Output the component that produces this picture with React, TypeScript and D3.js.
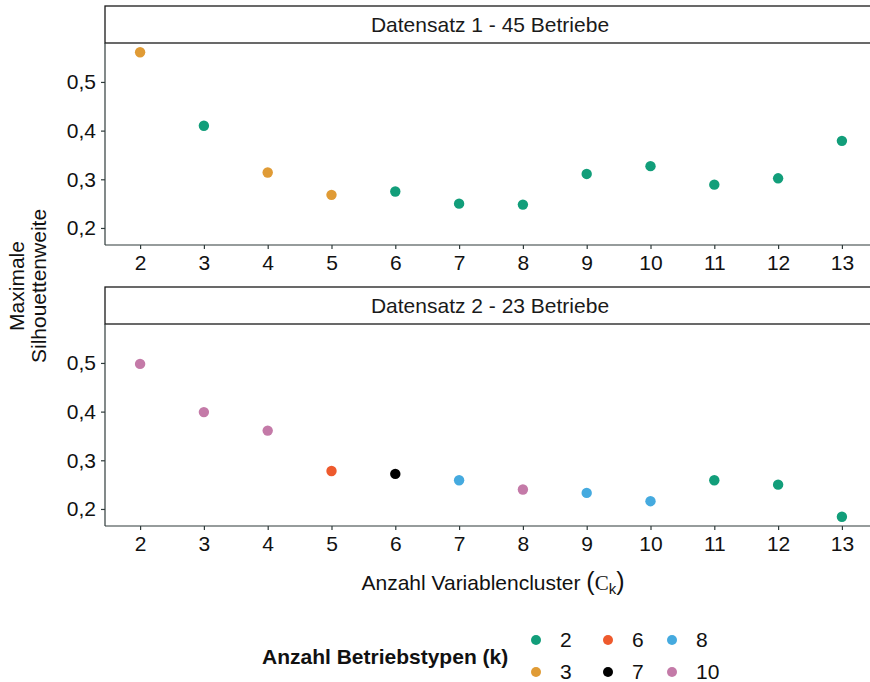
import React from "react";
import * as d3 from "d3";

// Anzahl Variablencluster (x) and maximale Silhouettenweite per Datensatz
const clusters = [2, 3, 4, 5, 6, 7, 8, 9, 10, 11, 12, 13];
const silhouette1 = [0.561, 0.41, 0.314, 0.268, 0.275, 0.25, 0.248, 0.311, 0.327, 0.289, 0.302, 0.379];
const types1 = [3, 2, 3, 3, 2, 2, 2, 2, 2, 2, 2, 2];
const silhouette2 = [0.498, 0.399, 0.361, 0.278, 0.272, 0.259, 0.24, 0.233, 0.216, 0.259, 0.25, 0.184];
const types2 = [10, 10, 10, 6, 7, 8, 10, 8, 8, 2, 2, 2];

const panelTitles = ["Datensatz 1 - 45 Betriebe", "Datensatz 2 - 23 Betriebe"];
const yTicks = [0.2, 0.3, 0.4, 0.5];
const legendLevels = [2, 3, 6, 7, 8, 10];
const legendColors = ["#129e7a", "#e09b35", "#ee5a2d", "#000000", "#45aadf", "#c47aa8"];

const App = () => {
  const svgRef = React.useRef<SVGSVGElement>(null);
  const width = 870;
  const height = 682;
  const font = "'Liberation Sans', Arial, sans-serif";
  const fs = 21;

  React.useEffect(() => {
    const svg = d3.select(svgRef.current);
    svg.selectAll("*").remove();

    const left = 105;
    const right = 877;
    const xScale = d3.scaleLinear().domain([1.45, 13.55]).range([left, right]);
    const color = d3.scaleOrdinal<number, string>().domain(legendLevels).range(legendColors);
    const fmt = (d: number) => d3.format(".1f")(d).replace(".", ",");

    const panels = [
      { top: 6, values: silhouette1, types: types1 },
      { top: 287, values: silhouette2, types: types2 },
    ];

    panels.forEach((p, i) => {
      const stripH = 37;
      const plotTop = p.top + stripH;
      const plotBottom = plotTop + 202;
      const yScale = d3.scaleLinear().domain([0.165, 0.58]).range([plotBottom, plotTop]);

      // strip
      svg.append("rect")
        .attr("x", left).attr("y", p.top)
        .attr("width", right - left).attr("height", stripH)
        .attr("fill", "white").attr("stroke", "#1a1a1a").attr("stroke-width", 1.3);
      svg.append("text")
        .attr("x", 490).attr("y", p.top + stripH / 2 + 7.5)
        .attr("text-anchor", "middle")
        .attr("font-family", font).attr("font-size", fs)
        .attr("fill", "#1a1a1a")
        .text(panelTitles[i]);

      // y axis
      const yAxis = d3.axisLeft(yScale).tickValues(yTicks).tickSize(4).tickPadding(5).tickFormat((d) => fmt(+d));
      const yG = svg.append("g").attr("transform", `translate(${left},0)`).call(yAxis);
      yG.select(".domain").attr("stroke", "#2f3b3b").attr("stroke-width", 1.2)
        .attr("d", `M0,${plotTop}V${plotBottom}`);
      yG.selectAll("line").attr("stroke", "#2f3b3b").attr("stroke-width", 1.2);
      yG.selectAll("text").attr("font-family", font).attr("font-size", fs).attr("fill", "#111");

      // x axis
      const xAxis = d3.axisBottom(xScale).tickValues(clusters).tickSize(4).tickPadding(6).tickFormat((d) => String(d));
      const xG = svg.append("g").attr("transform", `translate(0,${plotBottom})`).call(xAxis);
      xG.select(".domain").attr("stroke", "#2f3b3b").attr("stroke-width", 1.2)
        .attr("d", `M${left},0H${right}`);
      xG.selectAll("line").attr("stroke", "#2f3b3b").attr("stroke-width", 1.2);
      xG.selectAll("text").attr("font-family", font).attr("font-size", fs).attr("fill", "#111");

      // points
      svg.append("g").selectAll("circle")
        .data(clusters)
        .join("circle")
        .attr("cx", (d) => xScale(d))
        .attr("cy", (_, j) => yScale(p.values[j]))
        .attr("r", 5.2)
        .attr("fill", (_, j) => color(p.types[j]));
    });

    // y axis title
    const yTitle = svg.append("text")
      .attr("transform", "translate(28,286) rotate(-90)")
      .attr("text-anchor", "middle")
      .attr("font-family", font).attr("font-size", fs).attr("fill", "#111");
    yTitle.append("tspan").attr("x", 0).attr("dy", "-0.2em").text("Maximale");
    yTitle.append("tspan").attr("x", 0).attr("dy", "1.05em").text("Silhouettenweite");

    // x axis title
    const xTitle = svg.append("text")
      .attr("x", 493).attr("y", 590)
      .attr("text-anchor", "middle")
      .attr("font-family", font).attr("font-size", fs).attr("fill", "#111");
    xTitle.append("tspan").text("Anzahl Variablencluster ");
    xTitle.append("tspan").attr("font-size", 25).text("(");
    xTitle.append("tspan").attr("font-family", "'Liberation Serif', serif").text("C");
    xTitle.append("tspan").attr("font-size", 15).attr("dy", 4).text("k");
    xTitle.append("tspan").attr("font-size", 25).attr("dy", -4).text(")");

    // legend
    svg.append("text")
      .attr("x", 262).attr("y", 664)
      .attr("font-family", font).attr("font-size", fs).attr("font-weight", "bold").attr("fill", "#111")
      .text("Anzahl Betriebstypen (k)");
    const colX = [536, 608, 672];
    const rowY = [640, 672];
    legendLevels.forEach((lv, i) => {
      const cx = colX[Math.floor(i / 2)];
      const cy = rowY[i % 2];
      svg.append("circle").attr("cx", cx).attr("cy", cy).attr("r", 5).attr("fill", color(lv));
      svg.append("text")
        .attr("x", cx + 24).attr("y", cy + 7)
        .attr("font-family", font).attr("font-size", fs).attr("fill", "#111")
        .text(String(lv));
    });
  }, []);

  return (
    <svg
      ref={svgRef}
      width={width}
      height={height}
      style={{ position: "absolute", left: 0, top: 0, background: "white" }}
    />
  );
};

export default App;
